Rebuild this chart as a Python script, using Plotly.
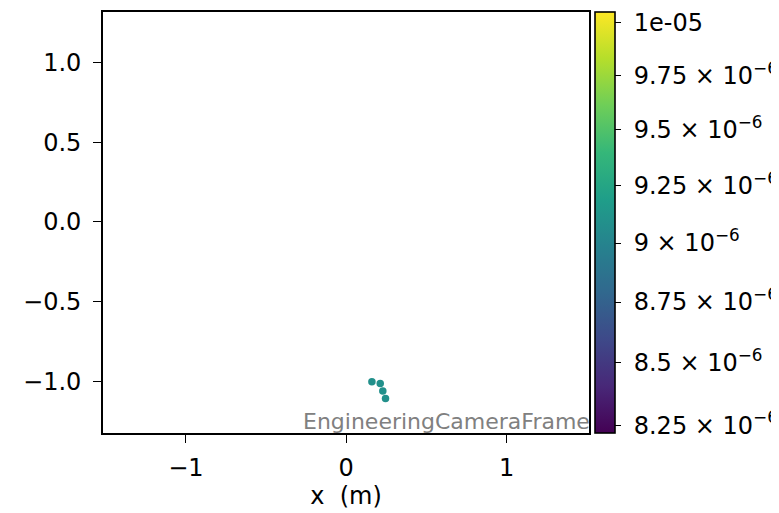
import numpy as np
import plotly.graph_objects as go

# Data
x_vals = [0.160, 0.212, 0.228, 0.245]
y_vals = [-1.002, -1.012, -1.059, -1.106]
c_vals = [9.09e-6, 9.09e-6, 9.09e-6, 9.09e-6]

x_ticks = [-1, 0, 1]
x_ticktext = ["−1", "0", "1"]
y_ticks = [-1.0, -0.5, 0.0, 0.5, 1.0]
y_ticktext = ["−1.0", "−0.5", "0.0", "0.5", "1.0"]

cb_ticks = [1e-5, 9.75e-6, 9.5e-6, 9.25e-6, 9e-6, 8.75e-6, 8.5e-6, 8.25e-6]
cb_ticktext = ["1e-05", "9.75 × 10<sup>−6</sup>", "9.5 × 10<sup>−6</sup>",
               "9.25 × 10<sup>−6</sup>", "9 × 10<sup>−6</sup>",
               "8.75 × 10<sup>−6</sup>", "8.5 × 10<sup>−6</sup>",
               "8.25 × 10<sup>−6</sup>"]
c_min, c_max = 8.219e-6, 1.0051e-5

FONT = "DejaVu Sans"
NBSP = "\u00a0"

fig = go.Figure()
fig.add_trace(go.Scatter(
    x=x_vals, y=y_vals, mode="markers",
    marker=dict(
        size=7.5,
        color=np.log10(c_vals),
        colorscale="Viridis",
        cmin=np.log10(c_min), cmax=np.log10(c_max),
        line=dict(width=0),
        showscale=True,
        colorbar=dict(
            x=1.012, xanchor="left", xpad=0, ypad=0,
            y=0.5, yanchor="middle", len=1, lenmode="fraction",
            thickness=20, outlinewidth=1.6, outlinecolor="black",
            tickvals=np.log10(cb_ticks).tolist(),
            ticktext=[NBSP + t for t in cb_ticktext],
            ticks="outside", ticklen=6, tickwidth=1.4, tickcolor="black",
            tickfont=dict(family=FONT, size=24, color="black"),
        ),
    ),
    showlegend=False,
))

fig.add_annotation(
    text="EngineeringCameraFrame", xref="paper", yref="paper",
    x=1.0, y=0.0, xanchor="right", yanchor="bottom", showarrow=False,
    font=dict(family=FONT, size=22, color="#808080"), xshift=3, yshift=-3,
)

axis_common = dict(
    showgrid=False, zeroline=False, showline=True, linecolor="black",
    linewidth=1.6, mirror=True, ticks="outside", ticklen=8, tickwidth=1.4,
    tickcolor="black", tickfont=dict(family=FONT, size=24, color="black"),
)

fig.update_layout(
    width=779, height=513,
    margin=dict(l=95, r=198, t=2, b=88),
    paper_bgcolor="white", plot_bgcolor="white",
    font=dict(family=FONT, color="black"),
    xaxis=dict(range=[-1.517, 1.514], tickvals=x_ticks, ticktext=x_ticktext,
               ticklabelstandoff=4,
               title=dict(text="x  (m)", font=dict(family=FONT, size=24), standoff=6),
               **axis_common),
    yaxis=dict(range=[-1.323, 1.316], tickvals=y_ticks, ticktext=y_ticktext,
               ticklabelstandoff=7,
               **axis_common),
)

fig.write_html("out.html")
